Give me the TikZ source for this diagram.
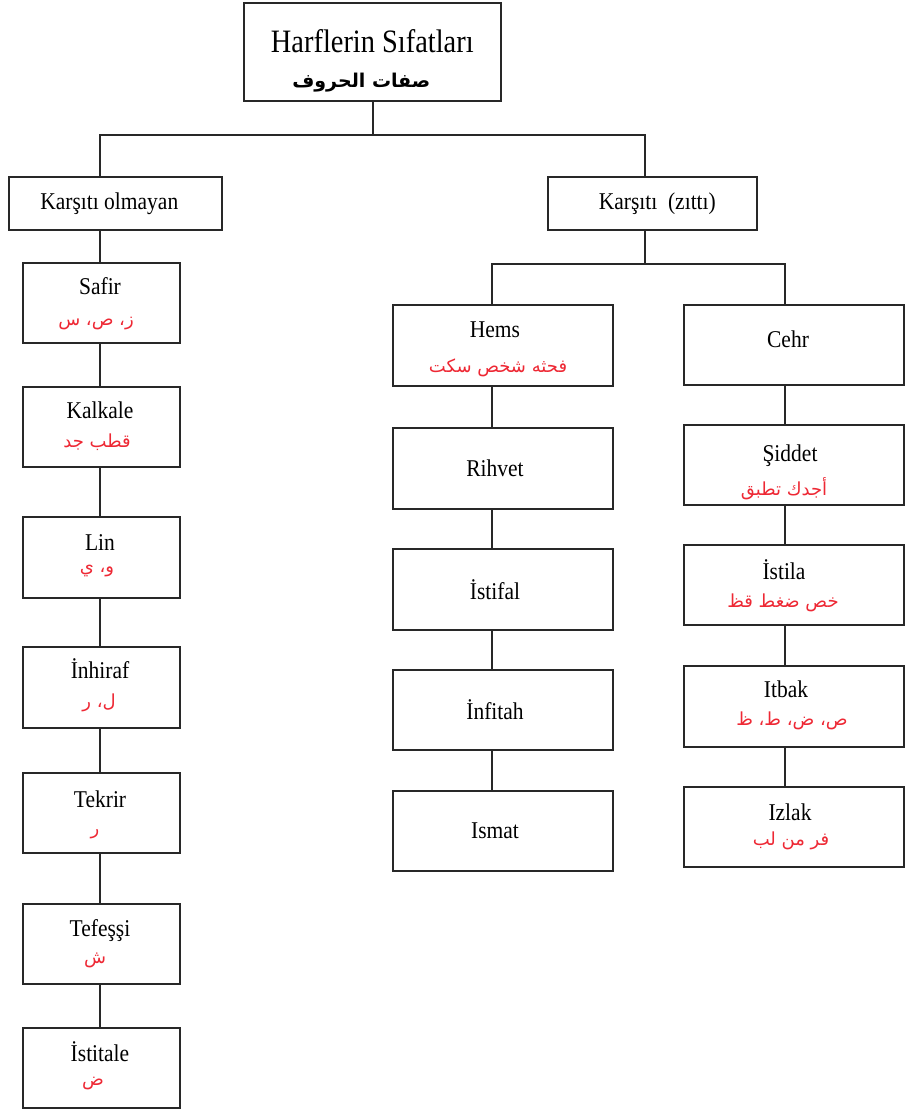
\documentclass[tikz,border=0pt]{standalone}
\usepackage{fontspec}
\usepackage{graphicx}
\setmainfont{Liberation Serif}
\newfontfamily\arabicfont[Script=Arabic]{DejaVu Sans}
\TeXXeTstate=1
\definecolor{arred}{RGB}{238,40,52}
\definecolor{ln}{RGB}{40,40,40}
\newcommand\tallt[1]{\scalebox{1}[1.12]{#1}}
\begin{document}
\begin{tikzpicture}[x=1pt,y=-1pt,
  box/.style={draw=ln,line width=1.6pt,fill=white,inner sep=0pt,anchor=north west},
  lat/.style={font=\fontsize{21.5}{24}\selectfont,inner sep=0pt,anchor=base},
  latc/.style={font=\fontsize{21.5}{24}\selectfont,inner sep=0pt,anchor=center},
  ar/.style={font=\arabicfont\fontsize{18}{20}\selectfont,text=arred,inner sep=0pt,anchor=center},
  link/.style={draw=ln,line width=1.3pt}]
\path[use as bounding box,fill=white] (0,0) rectangle (905,1110);

% title
\node[box,minimum width=257pt,minimum height=98pt] (title) at (243,2) {};
\node[font=\fontsize{28.4}{30}\selectfont,inner sep=0pt,anchor=base] (titleT) at ([yshift=-51pt]title.north) {\scalebox{1}[1.15]{Harflerin Sıfatları}};
\node[font=\arabicfont\bfseries\fontsize{19}{22}\selectfont,inner sep=0pt,anchor=center] (titleA) at ([xshift=-11pt,yshift=-81pt]title.north) {\beginR صفات الحروف\endR};

% second level
\node[box,minimum width=213pt,minimum height=53pt] (kol) at (8,176) {};
\node[latc] (kolT) at ([xshift=-6pt]kol.center) {\tallt{Karşıtı olmayan}};
\node[box,minimum width=209pt,minimum height=53pt] (kz) at (547,176) {};
\node[latc] (kzT) at ([xshift=5pt]kz.center) {\tallt{Karşıtı\hspace{0.5em}(zıttı)}};

% left column
\node[box,minimum width=157pt,minimum height=80pt] (safir) at (22,262) {};
\node[box,minimum width=157pt,minimum height=80pt] (kalkale) at (22,386) {};
\node[box,minimum width=157pt,minimum height=81pt] (lin) at (22,516) {};
\node[box,minimum width=157pt,minimum height=81pt] (inhiraf) at (22,646) {};
\node[box,minimum width=157pt,minimum height=80pt] (tekrir) at (22,772) {};
\node[box,minimum width=157pt,minimum height=80pt] (tefessi) at (22,903) {};
\node[box,minimum width=157pt,minimum height=80pt] (istitale) at (22,1027) {};

% middle column
\node[box,minimum width=220pt,minimum height=81pt] (hems) at (392,304) {};
\node[box,minimum width=220pt,minimum height=81pt] (rihvet) at (392,427) {};
\node[box,minimum width=220pt,minimum height=81pt] (istifal) at (392,548) {};
\node[box,minimum width=220pt,minimum height=80pt] (infitah) at (392,669) {};
\node[box,minimum width=220pt,minimum height=80pt] (ismat) at (392,790) {};

% right column
\node[box,minimum width=220pt,minimum height=80pt] (cehr) at (683,304) {};
\node[box,minimum width=220pt,minimum height=80pt] (siddet) at (683,424) {};
\node[box,minimum width=220pt,minimum height=80pt] (istila) at (683,544) {};
\node[box,minimum width=220pt,minimum height=81pt] (itbak) at (683,665) {};
\node[box,minimum width=220pt,minimum height=80pt] (izlak) at (683,786) {};

% junctions
\coordinate (jt) at (373,135);
\coordinate (jl) at (100,135);
\coordinate (jr) at (645,135);
\coordinate (jr2) at (645,264);
\coordinate (jm) at (492,264);
\coordinate (jrr) at (785,264);
\coordinate (xl) at (100,0);
\coordinate (xm) at (495,0);
\coordinate (xr) at (788,0);

% connectors
\draw[link] (jt |- title.south) -- (jt);
\draw[link] (jl |- kol.north) -- (jl) -- (jr) -- (jr |- kz.north);
\draw[link] (jl |- kol.south) -- (jl |- safir.north);
\draw[link] (jl |- safir.south) -- (jl |- kalkale.north);
\draw[link] (jl |- kalkale.south) -- (jl |- lin.north);
\draw[link] (jl |- lin.south) -- (jl |- inhiraf.north);
\draw[link] (jl |- inhiraf.south) -- (jl |- tekrir.north);
\draw[link] (jl |- tekrir.south) -- (jl |- tefessi.north);
\draw[link] (jl |- tefessi.south) -- (jl |- istitale.north);
\draw[link] (jr |- kz.south) -- (jr2);
\draw[link] (jm |- hems.north) -- (jm) -- (jrr) -- (jrr |- cehr.north);
\draw[link] (jm |- hems.south) -- (jm |- rihvet.north);
\draw[link] (jm |- rihvet.south) -- (jm |- istifal.north);
\draw[link] (jm |- istifal.south) -- (jm |- infitah.north);
\draw[link] (jm |- infitah.south) -- (jm |- ismat.north);
\draw[link] (jrr |- cehr.south) -- (jrr |- siddet.north);
\draw[link] (jrr |- siddet.south) -- (jrr |- istila.north);
\draw[link] (jrr |- istila.south) -- (jrr |- itbak.north);
\draw[link] (jrr |- itbak.south) -- (jrr |- izlak.north);

% left texts
\path (xl |- safir.north) ++(0,32) node[lat] (safirT) {\tallt{Safir}};
\path (xl |- safir.north) ++(-4,62) node[ar] (safirA) {\beginR ز، ص، س\endR};
\path (xl |- kalkale.north) ++(0,32) node[lat] (kalkaleT) {\tallt{Kalkale}};
\path (xl |- kalkale.north) ++(-3,56) node[ar] (kalkaleA) {\beginR قطب جد\endR};
\path (xl |- lin.north) ++(0,34) node[lat] (linT) {\tallt{Lin}};
\path (xl |- lin.north) ++(-3,55) node[ar] (linA) {\beginR و، ي\endR};
\path (xl |- inhiraf.north) ++(0,32) node[lat] (inhirafT) {\tallt{İnhiraf}};
\path (xl |- inhiraf.north) ++(-1,57) node[ar] (inhirafA) {\beginR ل، ر\endR};
\path (xl |- tekrir.north) ++(0,35) node[lat] (tekrirT) {\tallt{Tekrir}};
\path (xl |- tekrir.north) ++(-5,62) node[ar] (tekrirA) {\beginR ر\endR};
\path (xl |- tefessi.north) ++(0,33) node[lat] (tefessiT) {\tallt{Tefeşşi}};
\path (xl |- tefessi.north) ++(-5,57) node[ar] (tefessiA) {\beginR ش\endR};
\path (xl |- istitale.north) ++(0,34) node[lat] (istitaleT) {\tallt{İstitale}};
\path (xl |- istitale.north) ++(-7,57) node[ar] (istitaleA) {\beginR ض\endR};

% middle texts
\path (xm |- hems.north) ++(0,33) node[lat] (hemsT) {\tallt{Hems}};
\path (xm |- hems.north) ++(3,64) node[ar] (hemsA) {\beginR فحثه شخص سكت\endR};
\node[latc] (rihvetT) at (xm |- rihvet.center) {\tallt{Rihvet}};
\node[latc] (istifalT) at (xm |- istifal.center) {\tallt{İstifal}};
\node[latc] (infitahT) at (xm |- infitah.center) {\tallt{İnfitah}};
\node[latc] (ismatT) at (xm |- ismat.center) {\tallt{Ismat}};

% right texts
\node[latc] (cehrT) at ([yshift=6pt]xr |- cehr.center) {\tallt{Cehr}};
\path (xr |- siddet.north) ++(2,37) node[lat] (siddetT) {\tallt{Şiddet}};
\path (xr |- siddet.north) ++(-4,65) node[ar] (siddetA) {\beginR أجدك تطبق\endR};
\path (xr |- istila.north) ++(-4,35) node[lat] (istilaT) {\tallt{İstila}};
\path (xr |- istila.north) ++(-5,59) node[ar] (istilaA) {\beginR خص ضغط قظ\endR};
\path (xr |- itbak.north) ++(-2,32) node[lat] (itbakT) {\tallt{Itbak}};
\path (xr |- itbak.north) ++(4,56) node[ar] (itbakA) {\beginR ص، ض، ط، ظ\endR};
\path (xr |- izlak.north) ++(2,34) node[lat] (izlakT) {\tallt{Izlak}};
\path (xr |- izlak.north) ++(3,55) node[ar] (izlakA) {\beginR فر من لب\endR};
\end{tikzpicture}
\end{document}
